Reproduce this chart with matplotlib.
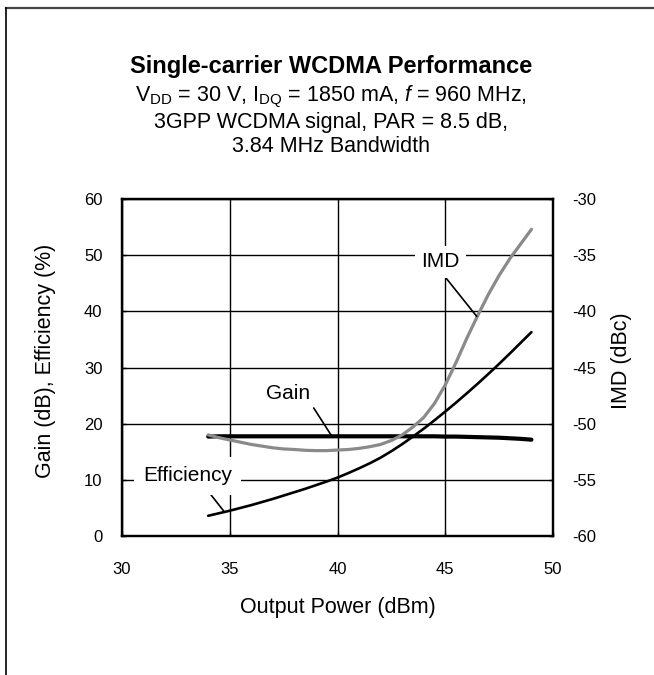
import numpy as np
import matplotlib
matplotlib.use("Agg")
import matplotlib.pyplot as plt
from matplotlib.lines import Line2D

plt.rcParams.update({
    "font.family": ["Liberation Sans", "DejaVu Sans"],
    "mathtext.fontset": "custom",
    "mathtext.rm": "Liberation Sans",
    "mathtext.it": "Liberation Sans:italic",
    "mathtext.bf": "Liberation Sans:bold",
    "axes.unicode_minus": False,
})

# data
pout = [34, 34.5, 35, 35.5, 36, 36.5, 37, 37.5, 38, 38.5, 39, 39.5, 40, 40.5,
        41, 41.5, 42, 42.5, 43, 43.5, 44, 44.5, 45, 45.5, 46, 46.5, 47, 47.5,
        48, 48.5, 49]
gain = [17.7, 17.75, 17.75, 17.75, 17.75, 17.75, 17.75, 17.75, 17.75, 17.75, 17.75,
        17.75, 17.75, 17.75, 17.75, 17.75, 17.75, 17.75, 17.75, 17.75, 17.75, 17.75,
        17.7, 17.7, 17.65, 17.6, 17.55, 17.5, 17.4, 17.3, 17.15]
efficiency = [3.6, 4.05, 4.5, 5.0, 5.5, 6.05, 6.6, 7.2, 7.8, 8.4, 9.05, 9.7, 10.4,
              11.2, 12.05, 12.95, 13.95, 15.1, 16.35, 17.7, 19.1, 20.6, 22.15, 23.75,
              25.4, 27.1, 28.85, 30.65, 32.5, 34.4, 36.3]
imd = [-51.0, -51.25, -51.45, -51.65, -51.85, -52.0, -52.15, -52.25, -52.3, -52.37,
       -52.4, -52.4, -52.35, -52.3, -52.2, -52.05, -51.85, -51.5, -51.0, -50.3,
       -49.45, -48.2, -46.55, -44.55, -42.4, -40.4, -38.5, -36.8, -35.3, -34.0, -32.7]

xticks = [30, 35, 40, 45, 50]
left_ticks = [0, 10, 20, 30, 40, 50, 60]
right_ticks = [-60, -55, -50, -45, -40, -35, -30]

W, H = 654, 675
fig = plt.figure(figsize=(W / 100, H / 100), dpi=100)
ax = fig.add_axes([122 / W, 1 - 536 / H, 431 / W, 337 / H])
ax2 = ax.twinx()

# curves
ax.plot(pout, gain, color="black", lw=3.0, solid_capstyle="round",
        solid_joinstyle="round", zorder=4)
ax.plot(pout, efficiency, color="black", lw=1.9, solid_capstyle="round",
        solid_joinstyle="round", zorder=4)
ax2.plot(pout, imd, color="#8a8a8a", lw=2.3, solid_capstyle="round",
         solid_joinstyle="round", zorder=4)

ax.set_xlim(30, 50)
ax.set_ylim(0, 60)
ax2.set_ylim(-60, -30)
ax.set_xticks(xticks)
ax.set_yticks(left_ticks)
ax2.set_yticks(right_ticks)
ax.grid(True, color="black", lw=1.0)
ax.set_axisbelow(True)

for a in (ax, ax2):
    for s in a.spines.values():
        s.set_linewidth(1.6)
ax.tick_params(direction="in", length=3, width=1, labelsize=12, pad=14)
ax.tick_params(axis="x", pad=19)
ax2.tick_params(direction="in", length=3, width=1, labelsize=12, pad=14)

ax.set_xlabel("Output Power (dBm)", fontsize=15.5, va="center")
ax.xaxis.set_label_coords(0.5, (536 - 607) / 337)
ax.set_ylabel("Gain (dB), Efficiency (%)", fontsize=15.5, va="center")
ax.yaxis.set_label_coords((46 - 122) / 431, 0.52)
ax2.set_ylabel("IMD (dBc)", fontsize=15.5, rotation=90, va="center")
ax2.yaxis.set_label_coords((621 - 122) / 431, 0.52)

# callouts
ax.annotate("Gain", xy=(39.73, 17.8), xytext=(37.72, 25.4), fontsize=15,
            ha="center", va="center", zorder=6,
            arrowprops=dict(arrowstyle="-", color="black", lw=1.2,
                            shrinkA=2, shrinkB=0, relpos=(1.0, 0.0)))
ax.annotate("Efficiency", xy=(34.75, 4.3), xytext=(33.04, 10.7), fontsize=15,
            ha="center", va="center", zorder=6,
            bbox=dict(boxstyle="square,pad=0.45", fc="white", ec="none"),
            arrowprops=dict(arrowstyle="-", color="black", lw=1.2,
                            shrinkA=0, shrinkB=0, relpos=(0.66, 0.12)))
ax2.annotate("IMD", xy=(46.46, -40.45), xytext=(44.79, -35.6), fontsize=15,
             ha="center", va="center", zorder=6,
             bbox=dict(boxstyle="square,pad=0.3", fc="white", ec="none"),
             arrowprops=dict(arrowstyle="-", color="black", lw=1.2,
                             shrinkA=0, shrinkB=0, relpos=(0.5, 0.0)))

# titles
cx = 331 / W
fig.text(cx, 1 - 73 / H, "Single-carrier WCDMA Performance", fontsize=17,
         fontweight="bold", ha="center", va="baseline")
fig.text(cx, 1 - 101.5 / H,
         r"V$_{\mathrm{DD}}$ = 30 V, I$_{\mathrm{DQ}}$ = 1850 mA, $f$ = 960 MHz,",
         fontsize=15.5, ha="center", va="baseline")
fig.text(cx, 1 - 128 / H, "3GPP WCDMA signal, PAR = 8.5 dB,",
         fontsize=15.5, ha="center", va="baseline")
fig.text(cx, 1 - 152 / H, "3.84 MHz Bandwidth",
         fontsize=15.5, ha="center", va="baseline")

# frame around the figure (top and left edges visible)
fig.add_artist(Line2D([6 / W, 1], [1 - 7.5 / H] * 2, transform=fig.transFigure,
                      color="#444444", lw=1.6))
fig.add_artist(Line2D([6 / W] * 2, [0, 1 - 7.5 / H], transform=fig.transFigure,
                      color="black", lw=1.2))

fig.savefig("out.png", dpi=100)
